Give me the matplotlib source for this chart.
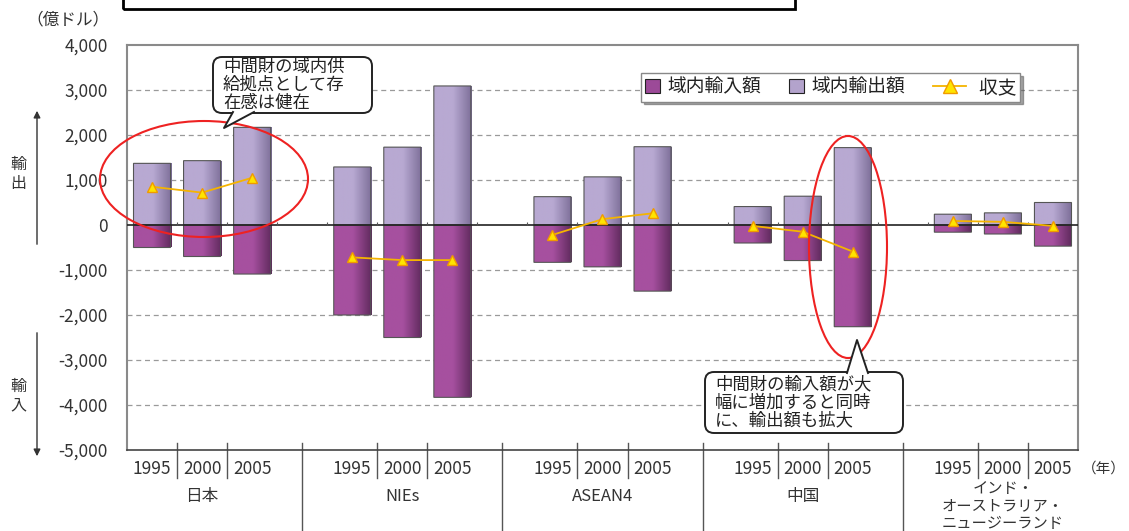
import numpy as np
import matplotlib
matplotlib.use('Agg')
import matplotlib.pyplot as plt
from matplotlib.patches import Patch, Ellipse, FancyBboxPatch, FancyArrowPatch, Polygon, Rectangle
from matplotlib.lines import Line2D
from matplotlib.colors import LinearSegmentedColormap
from matplotlib.transforms import IdentityTransform
from matplotlib.ticker import FuncFormatter
from matplotlib.legend_handler import HandlerLine2D

plt.rcParams['font.family'] = ['Noto Sans CJK JP', 'DejaVu Sans']

regions = ['日本', 'NIEs', 'ASEAN4', '中国', 'インド・\nオーストラリア・\nニュージーランド']
years = ['1995', '2000', '2005']
exports = [[1370, 1430, 2170], [1290, 1730, 3090], [630, 1070, 1740], [410, 640, 1720], [240, 270, 500]]
imports = [[-500, -700, -1090], [-2000, -2500, -3830], [-830, -930, -1470], [-400, -790, -2260], [-160, -200, -470]]
balance = [[850, 720, 1050], [-720, -780, -780], [-220, 130, 260], [-20, -150, -590], [90, 70, -20]]
yticks = [4000, 3000, 2000, 1000, 0, -1000, -2000, -3000, -4000, -5000]

W, H = 1129, 531
fig = plt.figure(figsize=(W / 100, H / 100), dpi=100)
ax = fig.add_axes([127 / W, 1 - 450 / H, 951 / W, 405 / H])
PX = IdentityTransform()


def py(y):
    # image row -> display y
    return H - y


def shade(bar, base, dark):
    cmap = LinearSegmentedColormap.from_list('g', [(0, base), (0.5, base), (1, dark)])
    x0, y0 = bar.get_x(), bar.get_y()
    w, h = bar.get_width(), bar.get_height()
    s = np.sign(h)
    im = ax.imshow(np.linspace(0, 1, 64).reshape(1, -1), cmap=cmap,
                   extent=(x0 - 0.02, x0 + w + 0.02, y0 - 60 * s, y0 + h + 60 * s),
                   aspect='auto', zorder=2, interpolation='bilinear')
    im.set_clip_path(bar)


# grid
for t in yticks[1:-1]:
    if t != 0:
        ax.axhline(t, color='#9a9a9a', lw=0.9, ls=(0, (4, 3)), zorder=1)

for g in range(len(regions)):
    xs = [g * 4 + i for i in range(3)]
    eb = ax.bar(xs, exports[g], width=0.74, facecolor='none', edgecolor='#555555', lw=0.8, zorder=3, snap=False)
    ib = ax.bar(xs, imports[g], width=0.74, facecolor='none', edgecolor='#555555', lw=0.8, zorder=3, snap=False)
    for b in eb:
        shade(b, '#B8A9D2', '#7A6C96')
    for b in ib:
        shade(b, '#A6509F', '#5C285A')
    ax.plot(xs, balance[g], color='#F5B400', lw=1.3, marker='^', ms=7,
            mfc='#FFE400', mec='#F09A00', mew=1, zorder=5)

ax.axhline(0, color='#222222', lw=1.2, zorder=4)
bounds = np.arange(-0.5, 18.6, 1)
ax.vlines(bounds[1:-1], 0, 70, color='#555555', lw=0.8, zorder=4)

ax.set_xlim(-0.5, 18.5)
ax.set_ylim(-5000, 4000)
ax.set_yticks(yticks)
ax.yaxis.set_major_formatter(FuncFormatter(lambda v, p: '{:,.0f}'.format(v)))
ax.tick_params(axis='y', length=0, pad=14, labelsize=12.5, labelcolor='#333333')
ax.set_xticks([])
for s in ['left', 'top', 'right']:
    ax.spines[s].set_color('#8a8a8a')
    ax.spines[s].set_linewidth(1.5)
ax.spines['bottom'].set_color('#444444')
ax.spines['bottom'].set_linewidth(1.2)

# category axis (two levels)
xt = ax.get_xaxis_transform()
for g in range(len(regions)):
    for i, yr in enumerate(years):
        ax.text(g * 4 + i, -0.047, yr, transform=xt, ha='center', va='center', fontsize=12.5, color='#333333')
    for d in [g * 4 + 0.5, g * 4 + 1.5]:
        ax.plot([d, d], [0.017, -0.068], transform=xt, color='#555555', lw=1, clip_on=False)
    if g < len(regions) - 1:
        d = g * 4 + 3
        ax.plot([d, d], [0.017, -0.2], transform=xt, color='#555555', lw=1, clip_on=False)
    if '\n' in regions[g]:
        ax.text(g * 4 + 1, -0.074, regions[g], transform=xt, ha='center', va='top', fontsize=11,
                color='#333333', linespacing=1.05)
    else:
        ax.text(g * 4 + 1, -0.116, regions[g], transform=xt, ha='center', va='center', fontsize=12,
                color='#333333')

fig.text(1082 / W, 1 - 469 / H, '（年）', ha='left', va='center', fontsize=10.5, color='#333333')
fig.text(68 / W, 1 - 20 / H, '（億ドル）', ha='center', va='center', fontsize=12, color='#333333')
fig.text(18 / W, 1 - 174 / H, '輸\n出', ha='center', va='center', fontsize=11.5, color='#333333', linespacing=1.2)
fig.text(18 / W, 1 - 396 / H, '輸\n入', ha='center', va='center', fontsize=11.5, color='#333333', linespacing=1.2)
fig.add_artist(FancyArrowPatch((37, py(247)), (37, py(108)), transform=PX,
                               arrowstyle='-|>,head_length=4,head_width=2', color='#333333', lw=1))
fig.add_artist(FancyArrowPatch((37, py(330)), (37, py(459)), transform=PX,
                               arrowstyle='-|>,head_length=4,head_width=2', color='#333333', lw=1))

# empty title frame at the top
fig.add_artist(Rectangle((123, py(9)), 672, 40, transform=PX, fill=False, ec='black', lw=2))


class LongLine(HandlerLine2D):
    def create_artists(self, legend, orig_handle, xdescent, ydescent, width, height, fontsize, trans):
        return super().create_artists(legend, orig_handle, xdescent, ydescent,
                                      width * 2.2, height, fontsize, trans)


# legend
handles = [Patch(fc='#9C4A98', ec='#222222', lw=0.8), Patch(fc='#B3A3CC', ec='#222222', lw=0.8),
           Line2D([], [], color='#F5B400', lw=1.3, marker='^', ms=10, mfc='#FFE400', mec='#F09A00')]
leg = fig.legend(handles, ['域内輸入額', '域内輸出額', '\u3000 収支'], ncol=3, loc='upper right',
                 bbox_to_anchor=(1020 / W, 1 - 73 / H), fontsize=13.5, frameon=True, fancybox=False,
                 shadow=True, edgecolor='#888888', handlelength=0.8, handleheight=0.8,
                 columnspacing=1.5, handletextpad=0.4, borderpad=0.2, borderaxespad=0,
                 handler_map={Line2D: LongLine(numpoints=1)})
leg.get_frame().set_linewidth(1)
for t in leg.get_texts():
    t.set_color('#222222')


# callouts
def callout(x0, y0, x1, y1, tail, lines):
    box = FancyBboxPatch((x0, py(y1)), x1 - x0, y1 - y0, transform=PX,
                         boxstyle='round,pad=0,rounding_size=9', fc='white', ec='#222222', lw=1.4, zorder=10)
    fig.add_artist(box)
    fig.add_artist(Polygon([(tail[0][0], py(tail[0][1])), (tail[1][0], py(tail[1][1])),
                            (tail[2][0], py(tail[2][1]))], closed=True, transform=PX,
                           fc='white', ec='none', zorder=11))
    fig.add_artist(Line2D([tail[0][0], tail[1][0], tail[2][0]], [py(tail[0][1]), py(tail[1][1]), py(tail[2][1])],
                          transform=PX, color='#222222', lw=1.4, zorder=12))
    fig.text((x0 + 10) / W, 1 - (y0 + y1) / 2 / H, '\n'.join(lines), ha='left', va='center', fontsize=12.5,
             color='#222222', linespacing=1.02, zorder=13)


fig.add_artist(Ellipse((204, py(179)), 208, 116, transform=PX, fill=False, ec='#ee2222', lw=1.5, zorder=9))
fig.add_artist(Ellipse((848, py(247)), 78, 222, transform=PX, fill=False, ec='#ee2222', lw=1.5, zorder=9))

callout(213, 57, 372, 113, [(233, 112), (224, 128), (254, 112)],
        ['中間財の域内供', '給拠点として存', '在感は健在'])
callout(705, 372, 903, 433, [(847, 373), (857, 340), (868, 373)],
        ['中間財の輸入額が大', '幅に増加すると同時', 'に、輸出額も拡大'])

fig.savefig('out.png', dpi=100)
